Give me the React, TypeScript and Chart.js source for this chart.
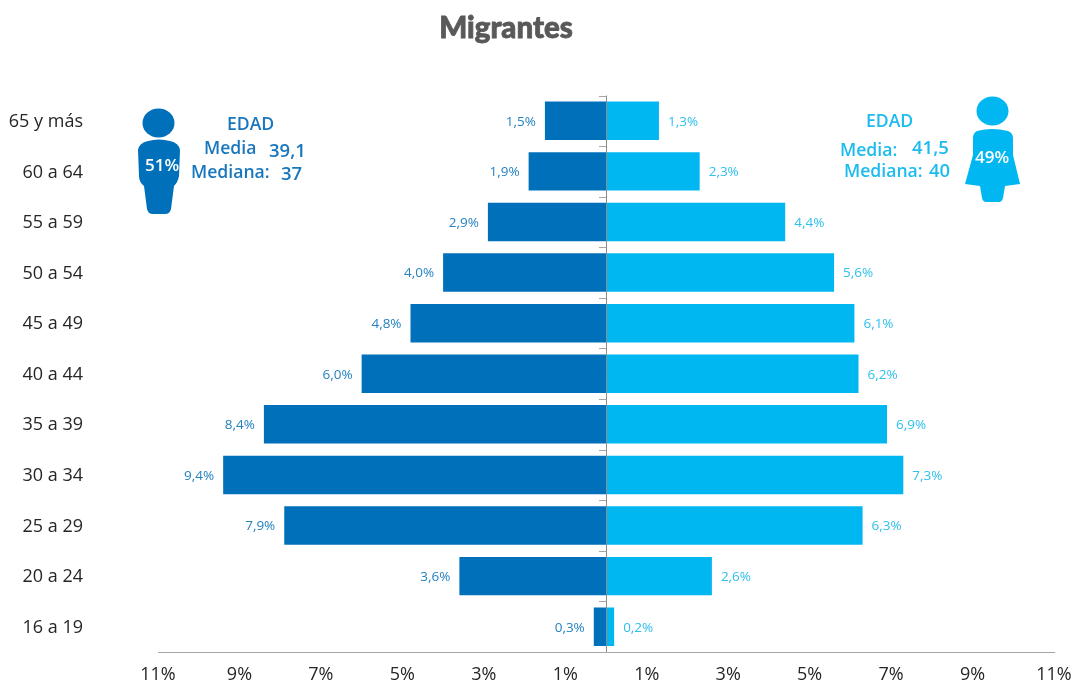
import React, { useEffect, useRef } from "react";
import { Chart, registerables } from "chart.js";

Chart.register(...registerables);

const categories = ["65 y más", "60 a 64", "55 a 59", "50 a 54", "45 a 49", "40 a 44", "35 a 39", "30 a 34", "25 a 29", "20 a 24", "16 a 19"];
const hombres = [1.5, 1.9, 2.9, 4.0, 4.8, 6.0, 8.4, 9.4, 7.9, 3.6, 0.3];
const mujeres = [1.3, 2.3, 4.4, 5.6, 6.1, 6.2, 6.9, 7.3, 6.3, 2.6, 0.2];
const tituloTexto = "Migrantes";

const AZUL = "#0070BA";
const CELESTE = "#00B7F1";
const FONT = '"Open Sans", sans-serif';

const fmt = (v: number) => Math.abs(v).toFixed(1).replace(".", ",") + "%";

const overlay = {
  id: "overlay",
  afterDatasetsDraw(chart: any) {
    const { ctx, scales } = chart;
    const x = scales.x;
    const y = scales.y;
    const zero = x.getPixelForValue(0);
    ctx.save();
    // title
    ctx.fillStyle = "#595959";
    ctx.strokeStyle = "#595959";
    ctx.lineWidth = 0.8;
    ctx.font = "900 29.5px Lato";
    ctx.textAlign = "center";
    ctx.textBaseline = "alphabetic";
    ctx.fillText(tituloTexto, 506, 38);
    ctx.strokeText(tituloTexto, 506, 38);

    // central axis
    ctx.strokeStyle = "#8C8C8C";
    ctx.lineWidth = 1;
    ctx.beginPath();
    ctx.moveTo(zero + 0.5, chart.chartArea.top);
    ctx.lineTo(zero + 0.5, chart.chartArea.bottom);
    ctx.stroke();
    ctx.strokeStyle = "#A6A6A6";
    ctx.beginPath();
    const step = y.getPixelForValue(1) - y.getPixelForValue(0);
    categories.forEach((_, i) => {
      const p = Math.round(y.getPixelForValue(i) - step / 2) + 0.5;
      ctx.moveTo(zero - 7, p);
      ctx.lineTo(zero, p);
    });
    ctx.stroke();

    // value labels
    ctx.font = `13.5px ${FONT}`;
    ctx.textBaseline = "middle";
    ctx.textAlign = "right";
    ctx.fillStyle = "#2482C0";
    hombres.forEach((v, i) => ctx.fillText(fmt(v), x.getPixelForValue(-v) - 9, y.getPixelForValue(i) + 1));
    ctx.textAlign = "left";
    ctx.fillStyle = "#2FC0EC";
    mujeres.forEach((v, i) => ctx.fillText(fmt(v), x.getPixelForValue(v) + 9, y.getPixelForValue(i) + 1));

    // male figure
    ctx.fillStyle = AZUL;
    ctx.beginPath();
    ctx.ellipse(158.5, 123, 16, 14.5, 0, 0, Math.PI * 2);
    ctx.fill();
    ctx.beginPath();
    ctx.moveTo(148, 141);
    ctx.quadraticCurveTo(159, 138, 170, 141);
    ctx.quadraticCurveTo(179, 143, 180, 150);
    ctx.lineTo(179, 176);
    ctx.quadraticCurveTo(178, 182, 174, 186);
    ctx.lineTo(171, 209);
    ctx.quadraticCurveTo(170, 214, 165, 214);
    ctx.lineTo(153, 214);
    ctx.quadraticCurveTo(148, 214, 147, 209);
    ctx.lineTo(144, 186);
    ctx.quadraticCurveTo(139, 182, 139, 176);
    ctx.lineTo(138, 150);
    ctx.quadraticCurveTo(139, 143, 148, 141);
    ctx.fill();

    // female figure
    ctx.fillStyle = CELESTE;
    ctx.beginPath();
    ctx.ellipse(992.5, 111, 16, 14.5, 0, 0, Math.PI * 2);
    ctx.fill();
    ctx.beginPath();
    ctx.moveTo(977, 131);
    ctx.quadraticCurveTo(992, 127, 1008, 131);
    ctx.quadraticCurveTo(1013, 133, 1013, 138);
    ctx.lineTo(1013, 155);
    ctx.lineTo(1020, 184);
    ctx.lineTo(1005, 186);
    ctx.lineTo(1003, 198);
    ctx.quadraticCurveTo(1002, 202, 999, 202);
    ctx.lineTo(986, 202);
    ctx.quadraticCurveTo(983, 202, 982, 198);
    ctx.lineTo(980, 186);
    ctx.lineTo(965, 184);
    ctx.lineTo(973, 155);
    ctx.lineTo(973, 138);
    ctx.quadraticCurveTo(973, 133, 977, 131);
    ctx.fill();

    // annotation text
    ctx.textAlign = "left";
    ctx.textBaseline = "alphabetic";
    ctx.font = `600 17px ${FONT}`;
    ctx.fillStyle = "#FFFFFF";
    ctx.fillText("51%", 145, 171);
    ctx.fillText("49%", 975, 163);

    ctx.fillStyle = "#1A77BC";
    ctx.font = `600 17.6px ${FONT}`;
    ctx.fillText("EDAD", 227, 130);
    ctx.fillText("Media", 204, 154);
    ctx.fillText("Mediana:", 191, 178);
    ctx.font = `600 18.5px ${FONT}`;
    ctx.fillText("39,1", 269, 157);
    ctx.fillText("37", 281, 180);

    ctx.fillStyle = "#1DBBEE";
    ctx.font = `600 17.6px ${FONT}`;
    ctx.fillText("EDAD", 866, 127);
    ctx.fillText("Media:", 840, 156);
    ctx.fillText("Mediana:", 844, 177);
    ctx.font = `600 18.5px ${FONT}`;
    ctx.fillText("41,5", 912, 154);
    ctx.fillText("40", 929, 177);
    ctx.restore();
  },
};

export default function App() {
  const ref = useRef<HTMLCanvasElement>(null);
  useEffect(() => {
    document.body.style.margin = "0";
    const chart = new Chart(ref.current!, {
      type: "bar",
      data: {
        labels: categories,
        datasets: [
          { label: "Hombres", data: hombres.map((v) => -v), backgroundColor: AZUL, barPercentage: 0.76, categoryPercentage: 1 },
          { label: "Mujeres", data: mujeres, backgroundColor: CELESTE, barPercentage: 0.76, categoryPercentage: 1 },
        ],
      },
      options: {
        indexAxis: "y",
        responsive: false,
        animation: false,
        layout: { padding: { left: 0, right: 21, top: 95.5, bottom: 0 } },
        plugins: {
          legend: { display: false },
          tooltip: { enabled: false },
          title: { display: false },
        },
        scales: {
          x: {
            stacked: true,
            min: -11,
            max: 11,
            ticks: {
              stepSize: 2,
              autoSkip: false,
              maxRotation: 0,
              color: "#262626",
              padding: 4,
              font: { family: FONT, size: 18 },
              callback: (v: any) => Math.abs(Number(v)) + "%",
            },
            grid: { display: false },
            border: { display: true, color: "#A6A6A6" },
            afterFit: (s: any) => { s.height = 32; s.paddingRight = 0; s.paddingLeft = 0; },
          },
          y: {
            stacked: true,
            ticks: {
              color: "#262626",
              padding: 0,
              labelOffset: 1,
              font: { family: FONT, size: 18 },
            },
            grid: { display: false, tickLength: 75 },
            border: { display: false },
            afterFit: (s: any) => { s.width = 158; },
          },
        },
      },
      plugins: [overlay],
    } as any);
    return () => chart.destroy();
  }, []);
  return <canvas ref={ref} width={1075} height={684} style={{ display: "block" }} />;
}
